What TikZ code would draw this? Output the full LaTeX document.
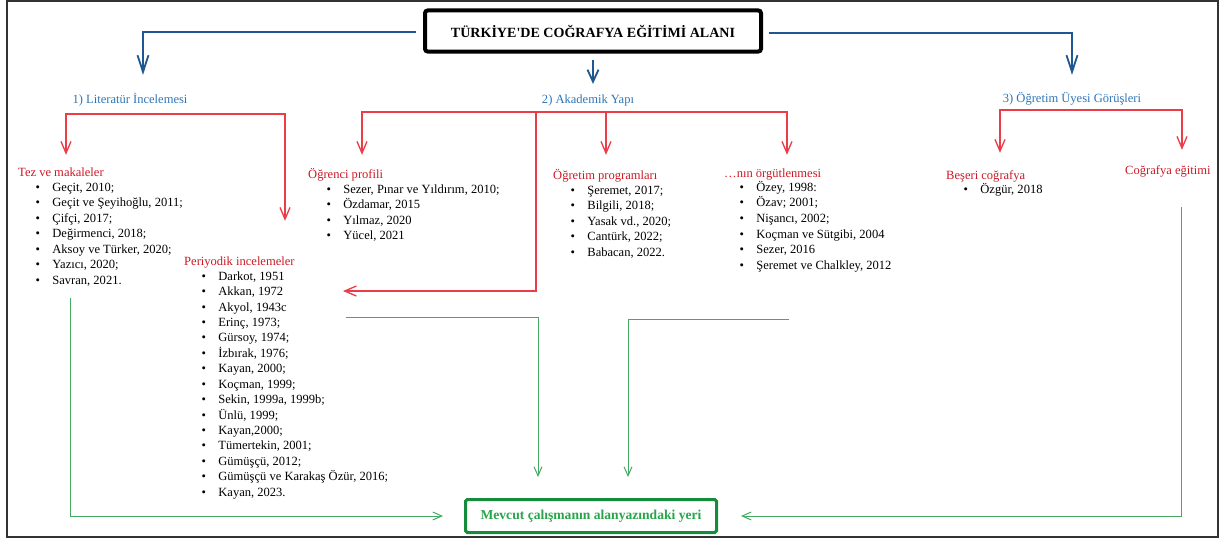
\documentclass[tikz,border=0pt]{standalone}
\usepackage{fontspec}
\setmainfont{Liberation Serif}
\usetikzlibrary{%
    arrows.meta,
    positioning
}
\definecolor{headblue}{RGB}{46,117,182}
\definecolor{linkblue}{RGB}{31,87,145}
\definecolor{headred}{RGB}{204,24,36}
\definecolor{linkred}{RGB}{236,60,72}
\definecolor{linkgreen}{RGB}{70,170,100}
\definecolor{boxgreen}{RGB}{20,140,60}
\definecolor{textgreen}{RGB}{40,165,75}
\tikzset{
    pageframe/.style = {draw=black!80, line width=0.6mm},
    titlebox/.style  = {draw, line width=1.2mm, rounded corners=0.8mm,
                        minimum width=100.8mm, minimum height=12.3mm,
                        font=\fontsize{12}{13}\selectfont\bfseries},
    bluehead/.style  = {text=headblue, inner sep=0, text height=7.5pt, text depth=2pt},
    redhead/.style   = {text=headred, anchor=west, inner sep=0, text height=7.5pt, text depth=2pt},
    item/.style      = {anchor=west, inner sep=0, text height=7.5pt, text depth=2pt},
    resultbox/.style = {draw=boxgreen, line width=0.9mm, rounded corners=0.5mm, text=textgreen,
                        minimum width=75.3mm, minimum height=9.9mm,
                        font=\fontsize{11.6}{13}\selectfont\bfseries},
    bluelink/.style  = {linkblue, line width=0.55mm, -{Straight Barb[length=5mm, width=3.3mm]}},
    redlink/.style   = {linkred, line width=0.4mm, -{Straight Barb[length=3.5mm, width=3mm]}},
    greenlink/.style = {linkgreen, line width=0.3mm, -{Straight Barb[length=2.7mm, width=2.4mm]}}
}
\newcommand{\bul}{\makebox[5mm][l]{\textbullet}}

\begin{document}
\begin{tikzpicture}[x=0.3mm, y=-0.3mm, font=\fontsize{10.7}{13}\selectfont]
    \useasboundingbox (0,0) rectangle (1226,542);
    \draw[pageframe] (7,1) rectangle (1218,537);

    % title and the three parts
    \node[titlebox] (title) at (593,31) {TÜRKİYE\textquotesingle DE COĞRAFYA EĞİTİMİ ALANI};
    \node[bluehead] (lit) at (130,100) {1) Literatür İncelemesi};
    \node[bluehead] (akd) at (588,100) {2) Akademik Yapı};
    \node[bluehead] (ogr) at (1072,99) {3) Öğretim Üyesi Görüşleri};

    \draw[bluelink, shorten <=2.1mm] ([yshift=-0.4mm]title.west) -| ([shift={(13,-19.4)}]lit.north);
    \draw[bluelink, -{Straight Barb[length=3.6mm, width=3.3mm]}, shorten <=2mm, shorten >=3.1mm]
        (title.south) -- (title.south |- akd.north);
    \draw[bluelink, shorten <=1.8mm] ([yshift=-0.5mm]title.east) -| ([shift={(0,-18.4)}]ogr.north);

    % sub headings
    \node[redhead] (tez) at (18,173)   {Tez ve makaleler};
    \node[redhead] (per) at (184,262)  {Periyodik incelemeler};
    \node[redhead] (ogp) at (308,175)  {Öğrenci profili};
    \node[redhead] (prg) at (553,176)  {Öğretim programları};
    \node[redhead] (org) at (724,174)  {…nın örgütlenmesi};
    \node[redhead] (bes) at (946,176)  {Beşeri coğrafya};
    \node[redhead] (cge) at (1125,171) {Coğrafya eğitimi};

    \coordinate (litbar) at (175,114);
    \coordinate (akdbar) at (536,112);
    \coordinate (ogrbar) at (1090,110);
    \coordinate (perin)  at (343,291);

    \draw[redlink] (litbar) -| ([shift={(48,-12.4)}]tez.north west);
    \draw[redlink] (litbar) -| ([shift={(101,-35.4)}]per.north west);
    \draw[redlink] (akdbar) -| ([shift={(54,-14.4)}]ogp.north west);
    \draw[redlink] (akdbar) -| ([shift={(53,-15.4)}]prg.north west);
    \draw[redlink] (akdbar) -| ([shift={(63,-13.4)}]org.north west);
    \draw[redlink] (akdbar) |- (perin);
    \draw[redlink] (ogrbar) -| ([shift={(54,-17.4)}]bes.north west);
    \draw[redlink] (ogrbar) -| ([shift={(57,-15.4)}]cge.north west);

    % reference lists
    \foreach \Item [count=\i] in {%
        {Geçit, 2010;},
        {Geçit ve Şeyihoğlu, 2011;},
        {Çifçi, 2017;},
        {Değirmenci, 2018;},
        {Aksoy ve Türker, 2020;},
        {Yazıcı, 2020;},
        {Savran, 2021.}%
    }
        \node[item] (tez-\i) at (35.5, {188+15.5*(\i-1)}) {\bul\Item};

    \foreach \Item [count=\i] in {%
        {Darkot, 1951},
        {Akkan, 1972},
        {Akyol, 1943c},
        {Erinç, 1973;},
        {Gürsoy, 1974;},
        {İzbırak, 1976;},
        {Kayan, 2000;},
        {Koçman, 1999;},
        {Sekin, 1999a, 1999b;},
        {Ünlü, 1999;},
        {Kayan,2000;},
        {Tümertekin, 2001;},
        {Gümüşçü, 2012;},
        {Gümüşçü ve Karakaş Özür, 2016;},
        {Kayan, 2023.}%
    }
        \node[item] (per-\i) at (201.5, {277+15.43*(\i-1)}) {\bul\Item};

    \foreach \Item [count=\i] in {%
        {Sezer, Pınar ve Yıldırım, 2010;},
        {Özdamar, 2015},
        {Yılmaz, 2020},
        {Yücel, 2021}%
    }
        \node[item] (ogp-\i) at (326.5, {190+15.4*(\i-1)}) {\bul\Item};

    \foreach \Item [count=\i] in {%
        {Şeremet, 2017;},
        {Bilgili, 2018;},
        {Yasak vd., 2020;},
        {Cantürk, 2022;},
        {Babacan, 2022.}%
    }
        \node[item] (prg-\i) at (570.5, {191+15.5*(\i-1)}) {\bul\Item};

    \foreach \Item [count=\i] in {%
        {Özey, 1998:},
        {Özav; 2001;},
        {Nişancı, 2002;},
        {Koçman ve Sütgibi, 2004},
        {Sezer, 2016},
        {Şeremet ve Chalkley, 2012}%
    }
        \node[item] (org-\i) at (739.5, {188+15.6*(\i-1)}) {\bul\Item};

    \node[item] (bes-1) at (963.5,190) {\bul Özgür, 2018};

    % result
    \node[resultbox] (res) at (591,516) {Mevcut çalışmanın alanyazındaki yeri};

    \coordinate (tezout) at (70,298);
    \coordinate (perout) at (346,317);
    \coordinate (orgout) at (789,319);
    \coordinate (cgeout) at (1181,207);

    \draw[greenlink, shorten >=6.3mm] (tezout) |- (res.west);
    \draw[greenlink, shorten >=6.3mm] (perout) -| ([shift={(-53,0)}]res.north);
    \draw[greenlink, shorten >=6.3mm] (orgout) -| ([shift={(37,0)}]res.north);
    \draw[greenlink, shorten >=6.9mm] (cgeout) |- (res.east);
\end{tikzpicture}
\end{document}
